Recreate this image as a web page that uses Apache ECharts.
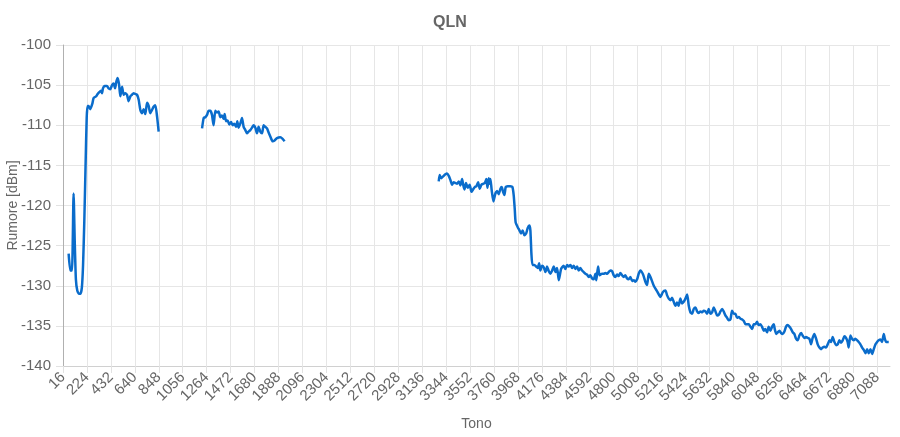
<!DOCTYPE html>
<html>
<head>
<meta charset="utf-8">
<script src="https://cdn.jsdelivr.net/npm/echarts@6/dist/echarts.min.js"></script>
<style>
html,body{margin:0;padding:0;background:#fff;}
#chart{width:900px;height:437px;}
</style>
</head>
<body>
<div id="chart"></div>
<script>
// ---- data (tone, QLN dBm) ----
var tones1 = [65,80,94,108,118,128,140,155,168,180,190,201,212,222,230,239,253,271,282,303,317,329,346,355,363,377,398,412,427,442,456,468,479,490,503,514,529,543,557,572,586,601,615,629,644,659,673,688,702,716,731,746,760,774,789,803,818,833,847];
var qln1 = [-126.0,-128.1,-128.1,-118.5,-124.5,-129.2,-130.6,-131.0,-131.0,-130.2,-127.5,-122.0,-115.0,-109.0,-107.6,-107.6,-108.0,-107.3,-106.6,-106.4,-106.1,-105.9,-105.7,-106.0,-105.4,-105.1,-105.1,-105.4,-105.5,-105.0,-104.8,-105.4,-104.6,-104.1,-104.9,-106.4,-105.2,-106.2,-106.0,-106.2,-107.0,-106.4,-106.2,-106.0,-106.1,-106.2,-106.8,-108.1,-108.5,-108.0,-108.6,-107.2,-107.6,-108.5,-108.1,-107.7,-107.5,-108.9,-110.8];

var tones2 = [1224,1238,1252,1267,1281,1296,1310,1324,1339,1354,1368,1383,1397,1411,1420,1432,1446,1461,1476,1490,1504,1519,1530,1541,1556,1571,1585,1600,1614,1628,1643,1658,1672,1687,1701,1715,1730,1745,1759,1774,1788,1802,1817,1837,1854,1875,1904,1924,1941];
var qln2 = [-110.4,-109.1,-109.0,-108.7,-108.2,-108.2,-108.7,-110.0,-108.2,-108.4,-108.3,-109.0,-108.8,-109.2,-108.6,-109.5,-109.4,-109.9,-109.6,-110.0,-109.8,-110.2,-109.5,-110.3,-109.8,-109.1,-110.2,-110.6,-111.0,-110.8,-110.6,-110.3,-110.0,-110.3,-111.0,-110.2,-110.8,-111.0,-110.0,-110.2,-110.4,-110.9,-111.4,-112.0,-111.9,-111.6,-111.5,-111.7,-112.0];

var tones3a = [3280,3288,3303,3323,3338,3352,3367,3381,3396,3410,3425,3439,3454,3468,3483,3492,3503,3517,3532,3549,3564,3578,3593,3607,3622,3636,3651,3665,3680,3694,3703,3714,3723,3729,3740,3755,3772,3787,3801,3816,3827,3839,3850,3862,3879,3902,3920,3931,3940,3948,3966,3981,3995,4009,4024,4039,4053,4067,4076,4085,4094,4111,4126,4140,4152,4163,4178,4192,4207,4221,4236,4250,4265,4279,4294,4308,4323];
var qln3a = [-117.0,-116.2,-116.6,-116.3,-116.1,-116.0,-116.3,-116.8,-117.4,-117.1,-117.2,-117.3,-117.0,-117.5,-116.7,-117.4,-118.0,-117.2,-117.8,-117.4,-118.3,-118.0,-117.7,-117.6,-117.1,-117.9,-117.4,-117.3,-117.2,-116.7,-117.8,-116.6,-117.3,-116.7,-118.1,-119.5,-118.5,-118.2,-118.6,-117.9,-117.7,-118.3,-118.7,-117.7,-117.6,-117.6,-117.7,-118.7,-120.4,-122.1,-122.7,-123.1,-123.5,-123.1,-123.7,-123.5,-122.8,-122.5,-123.1,-126.0,-127.4,-127.4,-127.6,-127.8,-127.2,-128.1,-127.5,-127.7,-128.3,-127.6,-128.2,-128.5,-128.1,-127.6,-128.3,-127.8,-129.3];

var tones3b = [4343,4365,4380,4395,4409,4424,4438,4452,4467,4482,4496,4510,4525,4539,4554,4568,4583,4597,4612,4626,4641,4649,4664,4678,4699,4713,4728,4742,4756,4771,4786,4800,4814,4829,4843,4858,4873,4887,4901,4916,4930,4945,4960,4974,4988,5003,5017,5032];
var qln3b = [-127.9,-127.5,-127.9,-127.4,-127.6,-127.4,-127.8,-127.5,-127.9,-127.6,-128.1,-127.8,-128.1,-128.3,-128.5,-128.6,-128.9,-128.7,-129.1,-129.2,-128.5,-129.3,-127.6,-128.7,-128.5,-128.5,-128.4,-128.5,-128.3,-128.1,-128.2,-128.7,-128.9,-128.6,-128.8,-128.4,-128.7,-128.9,-128.7,-129.1,-129.2,-128.9,-129.4,-129.3,-129.5,-129.2,-128.5,-128.1];

var tones3c = [5055,5075,5090,5104,5119,5148,5177,5206,5226,5249,5264,5278,5292,5307,5321,5336,5350,5364,5379,5394,5408,5423,5438,5452,5466,5481,5495,5510,5524,5538,5553,5568,5582,5597,5611,5625,5640,5655,5669,5684,5698,5713,5727,5742,5755,5770,5785,5799,5814,5828];
var qln3c = [-128.6,-129.5,-129.9,-128.5,-128.9,-130.0,-130.7,-131.4,-130.8,-130.6,-131.2,-131.6,-131.8,-131.5,-132.0,-132.5,-132.1,-132.5,-131.6,-132.2,-132.0,-131.6,-131.1,-132.5,-133.3,-133.5,-132.9,-132.7,-133.2,-133.4,-133.2,-133.3,-133.1,-133.2,-133.5,-132.9,-133.5,-133.3,-132.7,-133.2,-133.7,-133.6,-133.2,-132.9,-133.2,-133.7,-134.0,-134.3,-134.2,-133.1];

var tones3d = [5843,5857,5872,5886,5901,5916,5930,5945,5959,5973,5988,6003,6016,6031,6045,6059,6074,6088,6103,6117,6132,6146,6161,6176,6190,6199,6211,6225,6240,6254,6268,6283,6297,6311,6326,6341,6355,6369,6384,6398,6413,6428,6441,6456,6471,6485,6500,6514,6528,6543,6558,6572,6587,6601,6615,6630,6645,6659,6674,6688,6702,6717,6731,6746,6760,6775,6789,6804,6818,6832,6841,6856,6870,6885,6899,6914,6928,6943,6958,6972,6987,7001,7015,7030,7045,7059,7074,7088,7102,7117,7131,7146,7155,7167,7189];
var qln3d = [-133.5,-133.5,-134.0,-133.9,-134.1,-134.2,-134.4,-134.8,-134.8,-134.8,-135.1,-135.4,-134.8,-134.8,-134.5,-134.9,-134.8,-135.1,-135.6,-135.4,-135.8,-135.1,-135.6,-135.1,-134.8,-135.4,-136.0,-135.8,-135.6,-135.9,-136.0,-135.7,-135.1,-134.9,-135.1,-135.4,-135.8,-136.0,-136.6,-136.8,-136.2,-135.9,-136.2,-136.5,-136.4,-136.5,-136.6,-137.3,-136.5,-136.0,-136.6,-137.3,-137.7,-137.9,-137.7,-137.6,-137.7,-137.3,-136.8,-137.0,-136.4,-137.0,-137.4,-137.3,-136.8,-137.1,-136.8,-136.3,-136.5,-137.0,-137.7,-136.2,-136.6,-136.8,-136.6,-136.8,-137.0,-137.3,-137.7,-138.0,-138.4,-137.9,-138.4,-137.9,-138.5,-137.9,-137.3,-137.0,-136.8,-136.7,-137.0,-136.0,-136.6,-137.0,-137.0];

// axis settings
var toneMin = 16, toneMax = 7200, toneStep = 208;
var dbMin = -140, dbMax = -100, dbStep = 5;

// ---- build series data, with gaps between segments ----
function pairs(t, v) {
  var out = [];
  for (var i = 0; i < Math.min(t.length, v.length); i++) out.push([t[i], v[i]]);
  return out;
}
var gapA = [(tones1[tones1.length-1] + tones2[0]) / 2, null];
var gapB = [(tones2[tones2.length-1] + tones3a[0]) / 2, null];
var data = [].concat(
  pairs(tones1, qln1), [gapA],
  pairs(tones2, qln2), [gapB],
  pairs(tones3a, qln3a), pairs(tones3b, qln3b), pairs(tones3c, qln3c), pairs(tones3d, qln3d)
);

var FONT = '"Liberation Sans", Arial, Helvetica, sans-serif';
var chart = echarts.init(document.getElementById('chart'), null, {renderer: 'canvas'});
chart.setOption({
  animation: false,
  backgroundColor: '#ffffff',
  title: {
    text: 'QLN', left: 'center', top: 10,
    textStyle: {color: '#666666', fontSize: 16, fontWeight: 'bold', fontFamily: FONT}
  },
  grid: {left: 63, right: 10, top: 45, bottom: 71, containLabel: false, outerBoundsMode: 'none'},
  xAxis: {
    type: 'value', min: toneMin, max: toneMax, interval: toneStep,
    name: 'Tono', nameLocation: 'middle', nameGap: 51, nameMoveOverlap: false,
    nameTextStyle: {color: '#666666', fontSize: 14, fontFamily: FONT},
    axisLine: {show: true, onZero: false, lineStyle: {color: '#d0d0d0', width: 1}},
    axisTick: {show: true, length: 7, lineStyle: {color: '#e2e2e2'}},
    axisLabel: {rotate: 45, margin: 9, color: '#666666', fontSize: 15, fontFamily: FONT,
      showMaxLabel: false, hideOverlap: false,
      formatter: function (v) { return String(Math.round(v)); }},
    splitLine: {show: true, showMaxLine: false, lineStyle: {color: '#e6e6e6', width: 1}}
  },
  yAxis: {
    type: 'value', min: dbMin, max: dbMax, interval: dbStep,
    name: 'Rumore [dBm]', nameLocation: 'middle', nameGap: 43, nameMoveOverlap: false,
    nameTextStyle: {color: '#666666', fontSize: 14, fontFamily: FONT},
    axisLine: {show: true, lineStyle: {color: '#b0b0b0', width: 1}},
    axisTick: {show: true, length: 7, lineStyle: {color: '#e2e2e2'}},
    axisLabel: {margin: 12, color: '#666666', fontSize: 15, fontFamily: FONT,
      formatter: function (v) { return String(v); }},
    splitLine: {show: true, lineStyle: {color: '#e6e6e6', width: 1}}
  },
  series: [{
    type: 'line', data: data, showSymbol: false, symbol: 'none',
    connectNulls: false, smooth: 0.2,
    lineStyle: {color: '#0a6ccb', width: 2.5},
    itemStyle: {color: '#0a6ccb'}
  }]
});
</script>
</body>
</html>
